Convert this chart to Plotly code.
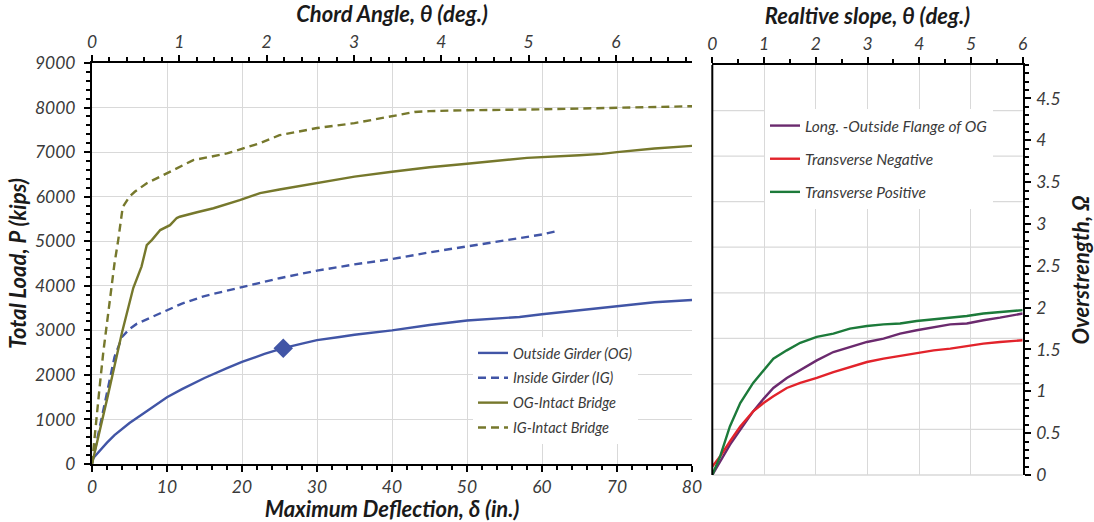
import plotly.graph_objects as go

# ---------------- Left chart data (Maximum deflection in, Total load kips) ----------------
og_x = [0, 1, 2, 3, 5, 7, 9, 10, 12, 15, 18, 20, 23, 25.5, 28, 30, 33, 35, 40, 45, 50, 55, 57, 60, 65, 70, 75, 80]
og_y = [100, 300, 480, 650, 920, 1150, 1380, 1500, 1680, 1930, 2150, 2290, 2470, 2600, 2700, 2780, 2850, 2900, 3000, 3120, 3220, 3280, 3300, 3360, 3450, 3550, 3630, 3680]

ig_x = [0, 1, 2, 3, 4, 5, 6, 8, 10, 12, 15, 18, 20, 25, 30, 35, 40, 45, 50, 55, 60, 62]
ig_y = [0, 800, 1600, 2400, 2850, 3030, 3150, 3300, 3460, 3600, 3770, 3900, 3970, 4170, 4340, 4480, 4600, 4750, 4880, 5020, 5150, 5230]

ogi_x = [0, 1, 2, 3, 4, 5.5, 6.6, 7.3, 8.0, 9.1, 10.4, 11.3, 11.7, 14, 16.2, 19.7, 22.4, 25, 30, 35, 40, 45, 50, 55, 58, 65, 68, 70, 75, 80]
ogi_y = [0, 700, 1450, 2200, 2950, 3950, 4430, 4910, 5030, 5250, 5360, 5520, 5550, 5650, 5740, 5920, 6080, 6160, 6300, 6450, 6560, 6660, 6740, 6830, 6870, 6930, 6960, 7000, 7080, 7140]

igi_x = [0, 0.5, 1, 1.5, 2, 2.6, 3, 3.5, 4.1, 5, 5.7, 7.3, 10, 13.5, 18, 22.4, 25, 30, 35, 40, 43, 45, 50, 60, 70, 80]
igi_y = [0, 900, 1700, 2500, 3200, 3940, 4500, 5030, 5770, 6000, 6110, 6300, 6530, 6820, 6970, 7200, 7380, 7540, 7650, 7800, 7900, 7920, 7940, 7960, 8000, 8030]

marker_x = [25.5]
marker_y = [2600]

# ---------------- Right chart data (relative slope deg, overstrength) ----------------
slope = [0, 0.15, 0.34, 0.54, 0.79, 0.99, 1.18, 1.44, 1.70, 2.02, 2.34, 2.66, 2.99, 3.31, 3.63, 3.95, 4.28, 4.60, 4.92, 5.24, 5.56, 6.0]
trans_pos = [0, 0.22, 0.58, 0.86, 1.10, 1.25, 1.39, 1.49, 1.58, 1.65, 1.69, 1.75, 1.78, 1.80, 1.81, 1.84, 1.86, 1.88, 1.90, 1.93, 1.95, 1.97]
long_og = [0, 0.16, 0.36, 0.54, 0.76, 0.91, 1.04, 1.16, 1.25, 1.37, 1.47, 1.53, 1.59, 1.63, 1.69, 1.73, 1.77, 1.80, 1.81, 1.85, 1.88, 1.93]
trans_neg = [0.1, 0.22, 0.40, 0.58, 0.76, 0.86, 0.94, 1.04, 1.10, 1.16, 1.23, 1.29, 1.35, 1.39, 1.42, 1.45, 1.49, 1.51, 1.54, 1.57, 1.59, 1.61]

# number of horizontal grid bands in the right panel (shared with a 0-9000 kips scale)
right_grid_bands = 9

BLUE = "#4155A6"
OLIVE = "#76782C"
PURPLE = "#6B2A6E"
RED = "#E2232B"
GREEN = "#1C7A3A"

FONT = "Lato"
TICKFONT = dict(family=FONT, size=17.5, color="#3a3a3a", style="italic")
TITLEFONT = dict(family=FONT, size=22, color="#1a1a1a", style="italic", weight="bold")
LEGFONT = dict(family=FONT, size=14.5, color="#3a3a3a", style="italic")
LEGFONT2 = dict(family=FONT, size=15.5, color="#3a3a3a", style="italic")
GRID = "#d9d9d9"

fig = go.Figure()

line_w = 2.4
fig.add_trace(go.Scatter(x=og_x, y=og_y, mode="lines", name="Outside Girder (OG)",
                         line=dict(color=BLUE, width=line_w), legend="legend", legendgroup="a"))
fig.add_trace(go.Scatter(x=ig_x, y=ig_y, mode="lines", name="Inside Girder (IG)",
                         line=dict(color=BLUE, width=line_w, dash="8px,5px"), legend="legend", legendgroup="b"))
fig.add_trace(go.Scatter(x=ogi_x, y=ogi_y, mode="lines", name="OG-Intact Bridge",
                         line=dict(color=OLIVE, width=line_w), legend="legend", legendgroup="c"))
fig.add_trace(go.Scatter(x=igi_x, y=igi_y, mode="lines", name="IG-Intact Bridge",
                         line=dict(color=OLIVE, width=line_w, dash="8px,5px"), legend="legend", legendgroup="d"))
fig.add_trace(go.Scatter(x=marker_x, y=marker_y, mode="markers", showlegend=False,
                         marker=dict(symbol="diamond", size=15, color=BLUE)))
# empty helper trace so that the secondary (top) axis of the left panel gets drawn
fig.add_trace(go.Scatter(x=[], y=[], xaxis="x2", yaxis="y", showlegend=False, hoverinfo="skip"))

fig.add_trace(go.Scatter(x=slope, y=long_og, mode="lines", name="Long. -Outside Flange of OG",
                         line=dict(color=PURPLE, width=line_w), xaxis="x3", yaxis="y3",
                         legend="legend2", legendgroup="e"))
fig.add_trace(go.Scatter(x=slope, y=trans_neg, mode="lines", name="Transverse Negative",
                         line=dict(color=RED, width=line_w), xaxis="x3", yaxis="y3",
                         legend="legend2", legendgroup="f"))
fig.add_trace(go.Scatter(x=slope, y=trans_pos, mode="lines", name="Transverse Positive",
                         line=dict(color=GREEN, width=line_w), xaxis="x3", yaxis="y3",
                         legend="legend2", legendgroup="g"))

W, H = 1094, 522
def px(x):
    return x / W
def py(y):
    return (H - y) / H

axis_common = dict(showline=True, linecolor="black", linewidth=2, ticks="outside",
                   tickcolor="black", tickwidth=2, ticklen=6, tickfont=TICKFONT,
                   zeroline=False, title_font=TITLEFONT, fixedrange=True, automargin=False)
minor_style = dict(ticks="outside", ticklen=4, tickcolor="black", tickwidth=1.5, showgrid=False)

# right panel: horizontal grid lines + left border
shapes = []
for k in range(right_grid_bands):
    shapes.append(dict(type="line", xref="x3 domain", yref="y3 domain",
                       x0=0, x1=1, y0=k / right_grid_bands, y1=k / right_grid_bands,
                       line=dict(color=GRID, width=1.3), layer="below"))
shapes.append(dict(type="line", xref="x3 domain", yref="y3 domain", x0=0, x1=0, y0=0, y1=1,
                   line=dict(color="black", width=2), layer="above"))

fig.update_layout(
    width=W, height=H,
    margin=dict(l=0, r=0, t=0, b=0),
    paper_bgcolor="white", plot_bgcolor="white",
    shapes=shapes,
    xaxis=dict(domain=[px(92), px(692)], range=[0, 80], dtick=10, anchor="y",
               showgrid=True, gridcolor=GRID, gridwidth=1.3,
               minor=dict(dtick=2, **minor_style),
               title=dict(text="Maximum Deflection, δ (in.)", standoff=0), **axis_common),
    xaxis2=dict(overlaying="x", side="top", anchor="y", range=[0, 6.87], dtick=1,
                showgrid=False, minor=dict(dtick=0.2, **minor_style),
                title=dict(text="Chord Angle, θ (deg.)", standoff=2), **axis_common),
    yaxis=dict(domain=[py(464), py(63)], range=[0, 9000], dtick=1000, anchor="x",
               showgrid=True, gridcolor=GRID, gridwidth=1.3, ticklabelstandoff=5,
               minor=dict(dtick=200, **minor_style),
               title=dict(text="Total Load, P (kips)", standoff=2), **axis_common),
    xaxis3=dict(domain=[px(712.3), px(1022.7)], range=[0, 6], dtick=1, anchor="y3", side="top",
                showgrid=True, gridcolor=GRID, gridwidth=1.3,
                minor=dict(dtick=0.5, **minor_style),
                title=dict(text="Realtive slope, θ (deg.)", standoff=2), **axis_common),
    yaxis3=dict(domain=[py(475), py(65)], range=[0, 4.9], dtick=0.5, anchor="x3", side="right",
                showgrid=False, minor=dict(dtick=0.1, **minor_style), ticklabelstandoff=2,
                title=dict(text="Overstrength, Ω", standoff=14), **axis_common),
    legend=dict(x=px(473), y=py(337), xanchor="left", yanchor="top", bgcolor="white",
                borderwidth=0, font=LEGFONT, traceorder="grouped", tracegroupgap=3,
                itemwidth=30),
    legend2=dict(x=px(765), y=py(109), xanchor="left", yanchor="top", bgcolor="white",
                 borderwidth=0, font=LEGFONT2, traceorder="grouped", tracegroupgap=10,
                 itemwidth=30),
)

fig.write_html("out.html")
